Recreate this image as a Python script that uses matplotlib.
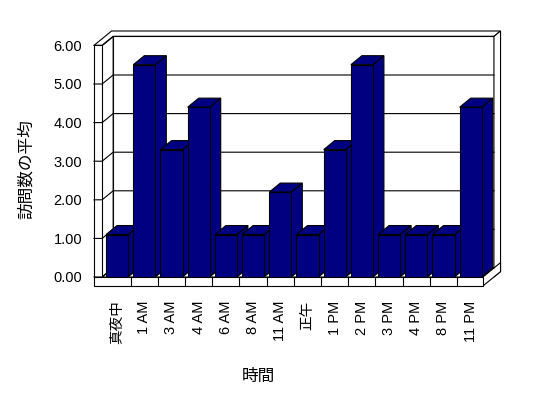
import matplotlib
matplotlib.use('Agg')
import matplotlib.pyplot as plt
from matplotlib.patches import Polygon

# ---- data ----
categories = ['真夜中', '1 AM', '3 AM', '4 AM', '6 AM', '8 AM', '11 AM', '正午',
              '1 PM', '2 PM', '3 PM', '4 PM', '8 PM', '11 PM']
values = [1.1, 5.5, 3.3, 4.4, 1.1, 1.1, 2.2, 1.1, 3.3, 5.5, 1.1, 1.1, 1.1, 4.4]
yticks = [0, 1, 2, 3, 4, 5, 6]
ytick_labels = [f'{v:.2f}' for v in yticks]
x_title = '時間'
y_title = '訪問数の平均'

plt.rcParams['font.family'] = ['Liberation Sans', 'Noto Sans CJK JP']

W, H = 548, 398
fig = plt.figure(figsize=(W / 100, H / 100), dpi=100)
fig.patch.set_facecolor('white')

# geometry (pixel reference of the front plane)
px_cat0, px_pitch, px_zero, px_unit = 117.1, 27.2, 277.0, 38.6
XL0, XL1, XR = -0.85, -0.55, 13.45
YB, YT = -0.233, 6.0


def fx(x):
    return px_cat0 + x * px_pitch


def fy(y):
    return px_zero - y * px_unit


left, right = fx(XL0) / W, fx(XR) / W
bottom, top = (H - fy(YB)) / H, (H - fy(YT)) / H
ax = fig.add_axes([left, bottom, right - left, top - bottom])
ax.set_xlim(XL0, XR)
ax.set_ylim(YB, YT)
ax.set_facecolor('none')
for s in ax.spines.values():
    s.set_visible(False)

DX, DY = 11 / px_pitch, 9 / px_unit  # depth vector (data units)
T = 1.6  # back wall outer depth
LW = 0.8


def P(x, y, d):
    return (x + d * DX, y + d * DY)


def poly(pts, fc='white', z=1):
    ax.add_patch(Polygon(pts, closed=True, facecolor=fc, edgecolor='black',
                         linewidth=LW, clip_on=False, zorder=z,
                         joinstyle='miter'))


# walls & floor
poly([P(XL1, 0, 1), P(XR, 0, 1), P(XR, YT, 1), P(XL1, YT, 1)])           # back wall face
poly([P(XL1, 0, 0), P(XL1, YT, 0), P(XL1, YT, 1), P(XL1, 0, 1)])          # left wall inner face
poly([P(XL0, YT, 0), P(XL1, YT, 0), P(XL1, YT, 1), P(XR, YT, 1),
      P(XR, YT, T), P(XL0, YT, T)])                                         # top faces
poly([P(XR, YB, 1), P(XR, YT, 1), P(XR, YT, T), P(XR, YB, T)])            # back wall right side
poly([P(XL1, 0, 0), P(XR, 0, 0), P(XR, 0, 1), P(XL1, 0, 1)])              # floor top
poly([P(XR, YB, 0), P(XR, 0, 0), P(XR, 0, T), P(XR, YB, T)])              # floor right side
poly([P(XL0, 0, 0), P(XL1, 0, 0), P(XL1, YT, 0), P(XL0, YT, 0)])          # left wall front
poly([P(XL0, YB, 0), P(XR, YB, 0), P(XR, 0, 0), P(XL0, 0, 0)], z=6)       # floor front

# gridlines
for v in yticks:
    pts = [P(XL0, v, 0), P(XL1, v, 0), P(XL1, v, 1), P(XR, v, 1)]
    ax.plot([p[0] for p in pts], [p[1] for p in pts], color='black',
            linewidth=LW, clip_on=False, zorder=2)

# category dividers on floor front
for i in range(len(categories) - 1):
    ax.plot([i + 0.5, i + 0.5], [YB, 0], color='black', linewidth=LW,
            clip_on=False, zorder=7)

# bars
bw = 0.81
navy = '#000080'
for i, v in enumerate(values):
    x0, x1 = i - bw / 2, i + bw / 2
    poly([P(x1, 0, 0), P(x1, v, 0), P(x1, v, 1), P(x1, 0, 1)], fc=navy, z=4)
    poly([P(x0, v, 0), P(x1, v, 0), P(x1, v, 1), P(x0, v, 1)], fc=navy, z=4)
ax.bar(range(len(categories)), values, width=bw, color=navy,
       edgecolor='black', linewidth=LW, zorder=5)

# ticks & labels
ax.set_yticks(yticks)
ax.set_yticklabels(ytick_labels, fontsize=10.5)
ax.set_xticks(range(len(categories)))
ax.set_xticklabels(categories, rotation=90, fontsize=10.5)
ax.tick_params(axis='y', length=0, pad=8.5)
ax.tick_params(axis='x', length=0, pad=10.5)

fig.text(26 / W, 1 - 169 / H, y_title, rotation=90, ha='center', va='center',
         fontsize=12)
fig.text(258 / W, 1 - 376 / H, x_title, ha='center', va='center', fontsize=12)

fig.savefig('out.png', dpi=100, facecolor='white')
